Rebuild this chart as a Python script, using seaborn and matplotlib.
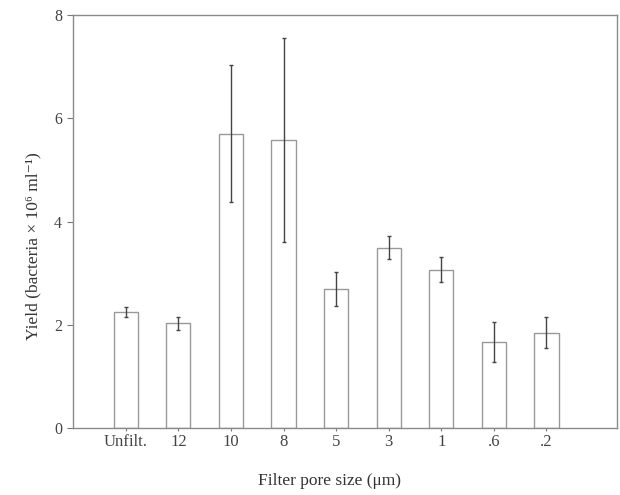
"""Bacterial yield by filter pore size, bar chart with error bars."""

import matplotlib
matplotlib.use("Agg")
import matplotlib.pyplot as plt
import pandas as pd
import seaborn as sns

pore_sizes = ["Unfilt.", "12", "10", "8", "5", "3", "1", ".6", ".2"]
yields = [2.25, 2.03, 5.70, 5.58, 2.69, 3.49, 3.07, 1.67, 1.85]
errors = [0.10, 0.13, 1.33, 1.98, 0.33, 0.22, 0.25, 0.38, 0.30]
y_ticks = [0, 2, 4, 6, 8]

sns.set_theme(style="white")
plt.rcParams["font.family"] = ["Liberation Serif", "DejaVu Serif"]

df = pd.DataFrame({"pore": pore_sizes, "yield": yields, "err": errors})

fig = plt.figure(figsize=(6.2, 4.95), dpi=100)
ax = fig.add_axes([0.118, 0.135, 0.877, 0.835])

sns.barplot(
    data=df,
    x="pore",
    y="yield",
    order=pore_sizes,
    color="white",
    edgecolor="#999999",
    linewidth=1.0,
    width=0.46,
    errorbar=None,
    ax=ax,
)
ax.errorbar(
    range(len(pore_sizes)),
    df["yield"],
    yerr=df["err"],
    fmt="none",
    ecolor="#444444",
    elinewidth=1.0,
    capsize=1.5,
    capthick=1.0,
)

ax.set_xlim(-1, 9.34)
ax.set_ylim(0, 8)
ax.set_yticks(y_ticks)
ax.set_yticklabels([str(t) for t in y_ticks])

for side in ["left", "right", "top", "bottom"]:
    ax.spines[side].set_color("#8a8a8a")
    ax.spines[side].set_linewidth(1.0)

ax.tick_params(axis="y", direction="out", length=4, width=0.8, color="#777777",
               labelsize=11.5, labelcolor="#444444", pad=4)
ax.tick_params(axis="x", direction="inout", length=4, width=0.8, color="#777777",
               labelsize=12, labelcolor="#444444", pad=2)
ax.yaxis.set_tick_params(left=True)
ax.xaxis.set_tick_params(bottom=True)

ax.set_xlabel("Filter pore size (μm)", fontsize=12.5, color="#333333")
ax.set_ylabel("Yield (bacteria × 10⁶ ml⁻¹)", fontsize=12.5, color="#333333")
ax.xaxis.set_label_coords(0.472, -0.108)
ax.yaxis.set_label_coords(-0.058, 0.44)

fig.savefig("out.png", dpi=100)
plt.close(fig)
